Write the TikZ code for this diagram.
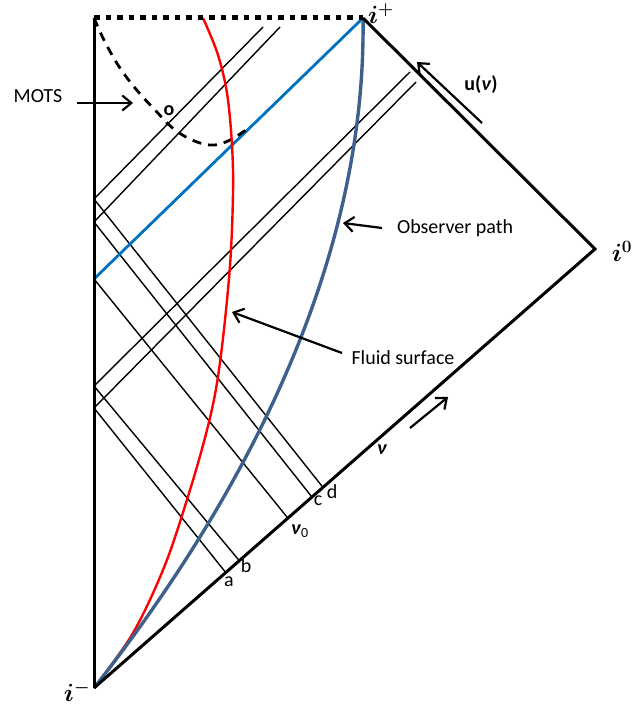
\documentclass[tikz,border=0pt]{standalone}
\usepackage{amsmath}
\usepackage{fontspec}
\setmainfont{Carlito}
\usetikzlibrary{arrows.meta,calc}
\definecolor{FluidRed}{RGB}{255,0,0}
\definecolor{ObserverBlue}{RGB}{62,96,140}
\definecolor{HorizonBlue}{RGB}{0,112,192}

\begin{document}
\begin{tikzpicture}[
    x=1pt, y=-1pt,
    font=\fontsize{20}{24}\selectfont,
    boundary/.style={line width=3pt, draw=black},
    infinityline/.style={line width=5pt, draw=black, dash pattern=on 5.5pt off 6pt},
    nullray/.style={line width=1.4pt, draw=black},
    horizonray/.style={line width=2.8pt, draw=HorizonBlue},
    fluidline/.style={line width=2.4pt, draw=FluidRed},
    observerline/.style={line width=3.4pt, draw=ObserverBlue},
    motsline/.style={line width=2.8pt, draw=black, dash pattern=on 9pt off 7pt},
    labelarrow/.style={-{Straight Barb[length=9pt,width=15pt,line width=2.2pt]}, line width=2.2pt},
    scrilabel/.style={font=\fontsize{23}{25}\selectfont\boldmath, inner sep=0pt}
]
\useasboundingbox (0,0) rectangle (644,706);

% Corners of the diagram: spatial infinity, future and past timelike infinity.
\coordinate (iminus) at (94,688);
\coordinate (iplus) at (363,18);
\coordinate (izero) at (595,249);
\coordinate (topleft) at (94,18);

% Points on the axis where the ingoing rays are reflected.
\coordinate (axd) at (94,199);
\coordinate (axc) at (94,222);
\coordinate (axv) at (94,279);
\coordinate (axb) at (94,386);
\coordinate (axa) at (94,408);

% Points on past null infinity where the ingoing rays start.
\coordinate (pa) at ($(iminus)!0.263!(izero)$);
\coordinate (pb) at ($(iminus)!0.290!(izero)$);
\coordinate (pv) at ($(iminus)!0.387!(izero)$);
\coordinate (pc) at ($(iminus)!0.435!(izero)$);
\coordinate (pd) at ($(iminus)!0.457!(izero)$);

% End points of the outgoing rays.
\coordinate (od) at (263,27);
\coordinate (oc) at (280,27);
\coordinate (ob) at (410,72);
\coordinate (oa) at (416,82);

% Ingoing rays from past null infinity to the axis.
\draw[nullray] (pa) -- (axa);
\draw[nullray] (pb) -- (axb);
\draw[nullray] (pv) -- (axv);
\draw[nullray] (pc) -- (axc);
\draw[nullray] (pd) -- (axd);

% Outgoing rays after reflection at the axis.
\draw[nullray] (axa) -- (oa);
\draw[nullray] (axb) -- (ob);
\draw[nullray] (axc) -- (oc);
\draw[nullray] (axd) -- (od);
\draw[horizonray] (axv) -- (iplus);

% Apparent horizon (MOTS) as a dashed curve.
\draw[motsline] plot[smooth, tension=0.6] coordinates {(94,18) (104,40) (118,65) (135,88) (155,110) (175,130) (197,142) (215,145) (232,139) (250,127)};
\coordinate (motstip) at (133,103);
\node[font=\fontsize{20}{24}\selectfont\bfseries] (dot) at (169,111) {o};

% Fluid surface and observer world lines.
\draw[fluidline] plot[smooth, tension=0.55] coordinates {(94,688) (133,633) (165,565) (190,490) (207,430) (217,383) (225,320) (231,250) (233,170) (228,100) (218,55) (203,18)};
\draw[observerline] (iminus) .. controls (210,540) and (367,295) .. (iplus);
\coordinate (fluidtip) at (232,312);
\coordinate (obstip) at (343,223);

% Boundary of the diagram.
\draw[infinityline] (topleft) -- (iplus);
\draw[boundary] (topleft) -- (iminus);
\draw[boundary] (iplus) -- (izero) -- (iminus);

% Corner labels.
\node[scrilabel] (lplus) at (381,14) {$i^{+}$};
\node[scrilabel] (lzero) at (622,251) {$i^{0}$};
\node[scrilabel] (lminus) at (77,692) {$i^{-}$};

% Labels of the rays on past null infinity.
\node (la) at (229,582) {a};
\node (lb) at (246,566) {b};
\node (lv) at (300,531) {\textbf{\textit{ν}}\textsubscript{0}};
\node (lc) at (318,501) {c};
\node (ld) at (332,492) {d};

% Coordinate labels along the null boundaries.
\node (lnu) at (382,450) {\textbf{\textit{ν}}};
\coordinate (nufrom) at (410,428);
\coordinate (nuto) at (448,397);
\draw[labelarrow] (nufrom) -- (nuto);
\node (lu) at (481,85) {\textbf{u(\textit{ν})}};
\coordinate (ufrom) at (482,123);
\coordinate (uto) at (417,62);
\draw[labelarrow] (ufrom) -- (uto);

% Text labels with their pointers.
\node (mots) at (38,96) {MOTS};
\coordinate (motsfrom) at (77,103);
\draw[labelarrow] (motsfrom) -- (motstip);
\node (observer) at (455,228) {Observer path};
\coordinate (obsfrom) at (382,228);
\draw[labelarrow] (obsfrom) -- (obstip);
\node (fluid) at (403,358) {Fluid surface};
\coordinate (fluidfrom) at (342,353);
\draw[labelarrow] (fluidfrom) -- (fluidtip);

\end{tikzpicture}
\end{document}
